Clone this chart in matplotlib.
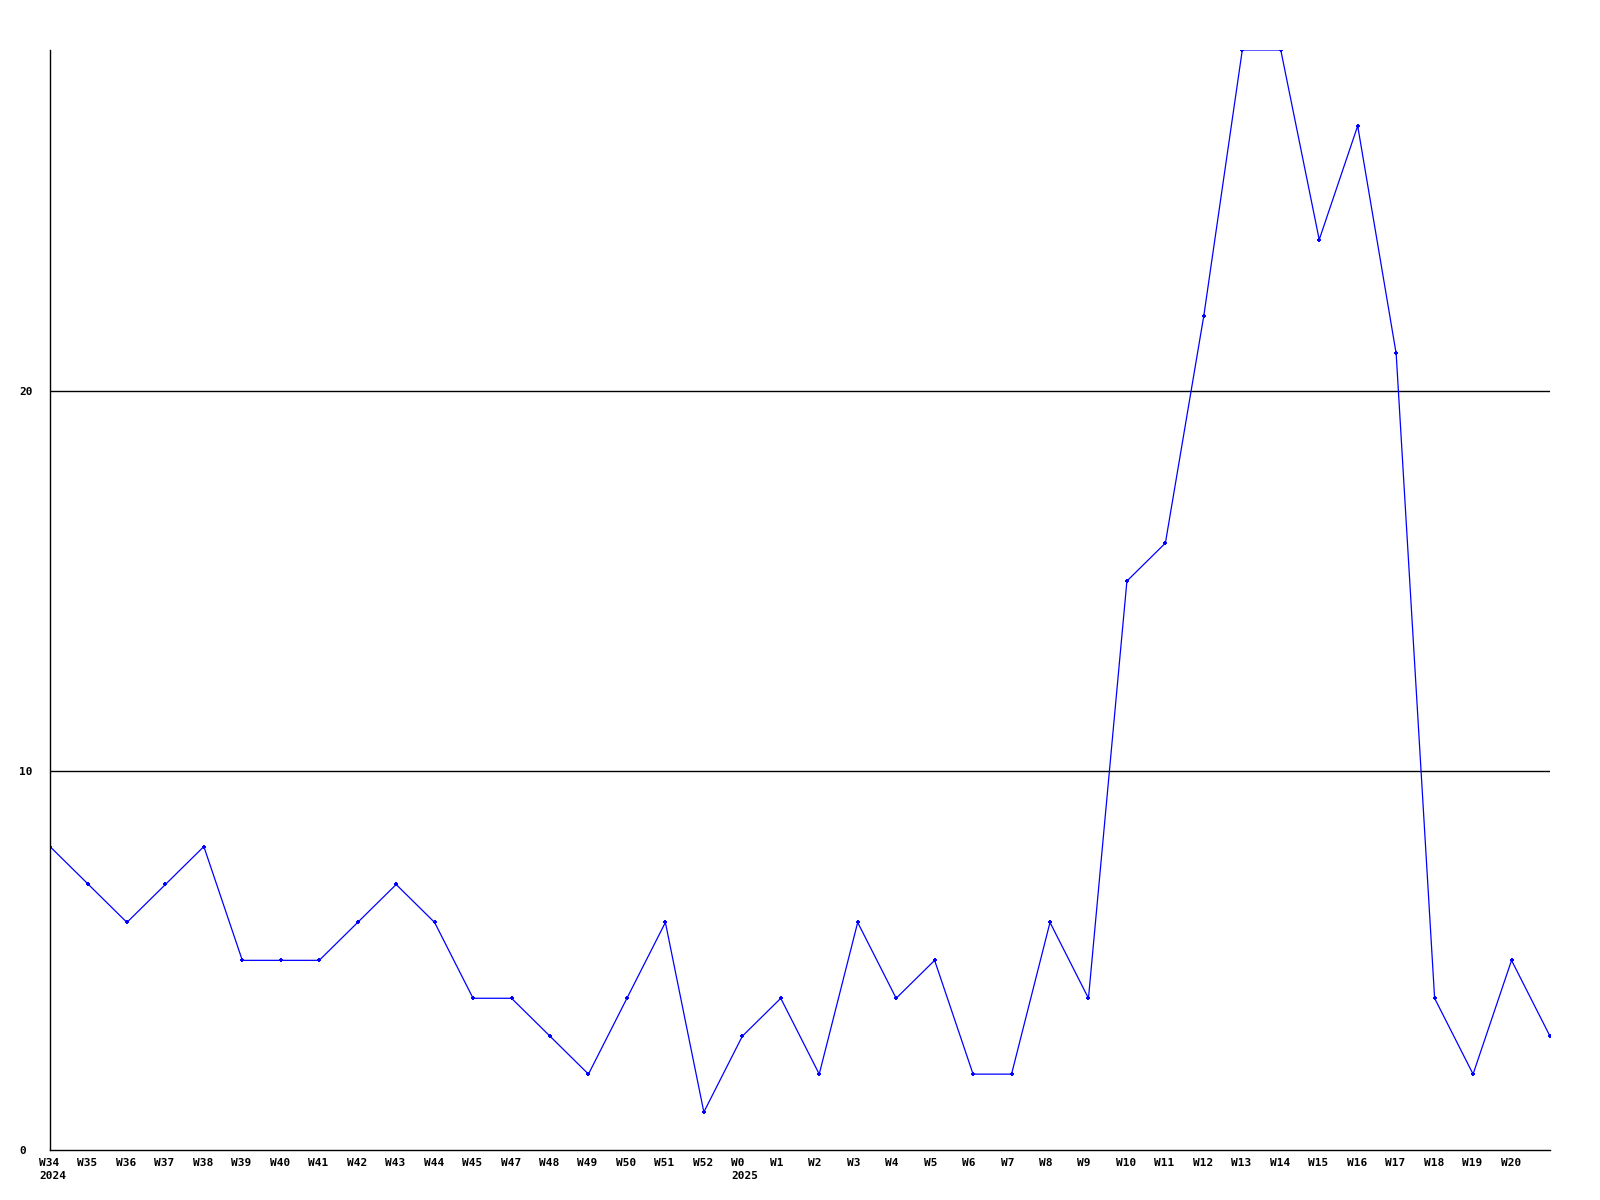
import matplotlib
matplotlib.use("Agg")
import matplotlib.pyplot as plt
from matplotlib.transforms import ScaledTranslation

# weekly counts, W34 2024 .. W21 2025 (W46 absent in source, last point unlabeled)
weeks = ["W34", "W35", "W36", "W37", "W38", "W39", "W40", "W41", "W42", "W43",
         "W44", "W45", "W47", "W48", "W49", "W50", "W51", "W52", "W0", "W1",
         "W2", "W3", "W4", "W5", "W6", "W7", "W8", "W9", "W10", "W11",
         "W12", "W13", "W14", "W15", "W16", "W17", "W18", "W19", "W20", ""]
values = [8, 7, 6, 7, 8, 5, 5, 5, 6, 7,
          6, 4, 4, 3, 2, 4, 6, 1, 3, 4,
          2, 6, 4, 5, 2, 2, 6, 4, 15, 16,
          22, 29, 29, 24, 27, 21, 4, 2, 5, 3]
years = {"W34": "2024", "W0": "2025"}
yticks = [0, 10, 20]

FONT = "DejaVu Sans Mono"
BLUE = "#0000FF"

W, H, DPI = 1600, 1200, 100
fig = plt.figure(figsize=(W / DPI, H / DPI), dpi=DPI)
fig.patch.set_facecolor("white")
ax = fig.add_axes([50 / W, 50 / H, 1500 / W, 1100 / H])
ax.set_facecolor("white")

xs = list(range(len(values)))
ax.plot(xs, values, color=BLUE, lw=0.9, marker="+", ms=3.5, mew=1.4)

ax.set_xlim(0, len(values) - 1)
ax.set_ylim(0, 29)

for y in yticks[1:]:
    ax.axhline(y, color="black", lw=1, zorder=0)

for s in ["top", "right"]:
    ax.spines[s].set_visible(False)
for s in ["left", "bottom"]:
    ax.spines[s].set_color("black")
    ax.spines[s].set_linewidth(1)

labels = [w + ("\n" + years[w] if w in years else "") for w in weeks]
ax.set_xticks(xs)
ax.set_xticklabels(labels, fontfamily=FONT, fontweight="bold", fontsize=8,
                   ha="left", va="top", linespacing=1.3)
ax.tick_params(axis="x", length=0, pad=6)
shift = ScaledTranslation(-11 / DPI, 0, fig.dpi_scale_trans)
for lbl in ax.get_xticklabels():
    lbl.set_transform(lbl.get_transform() + shift)

ax.set_yticks(yticks)
ax.set_yticklabels([str(v) for v in yticks], fontfamily=FONT, fontweight="bold",
                   fontsize=8, ha="left")
ax.tick_params(axis="y", length=0, pad=22)

fig.savefig("out.png", dpi=DPI, facecolor="white")
